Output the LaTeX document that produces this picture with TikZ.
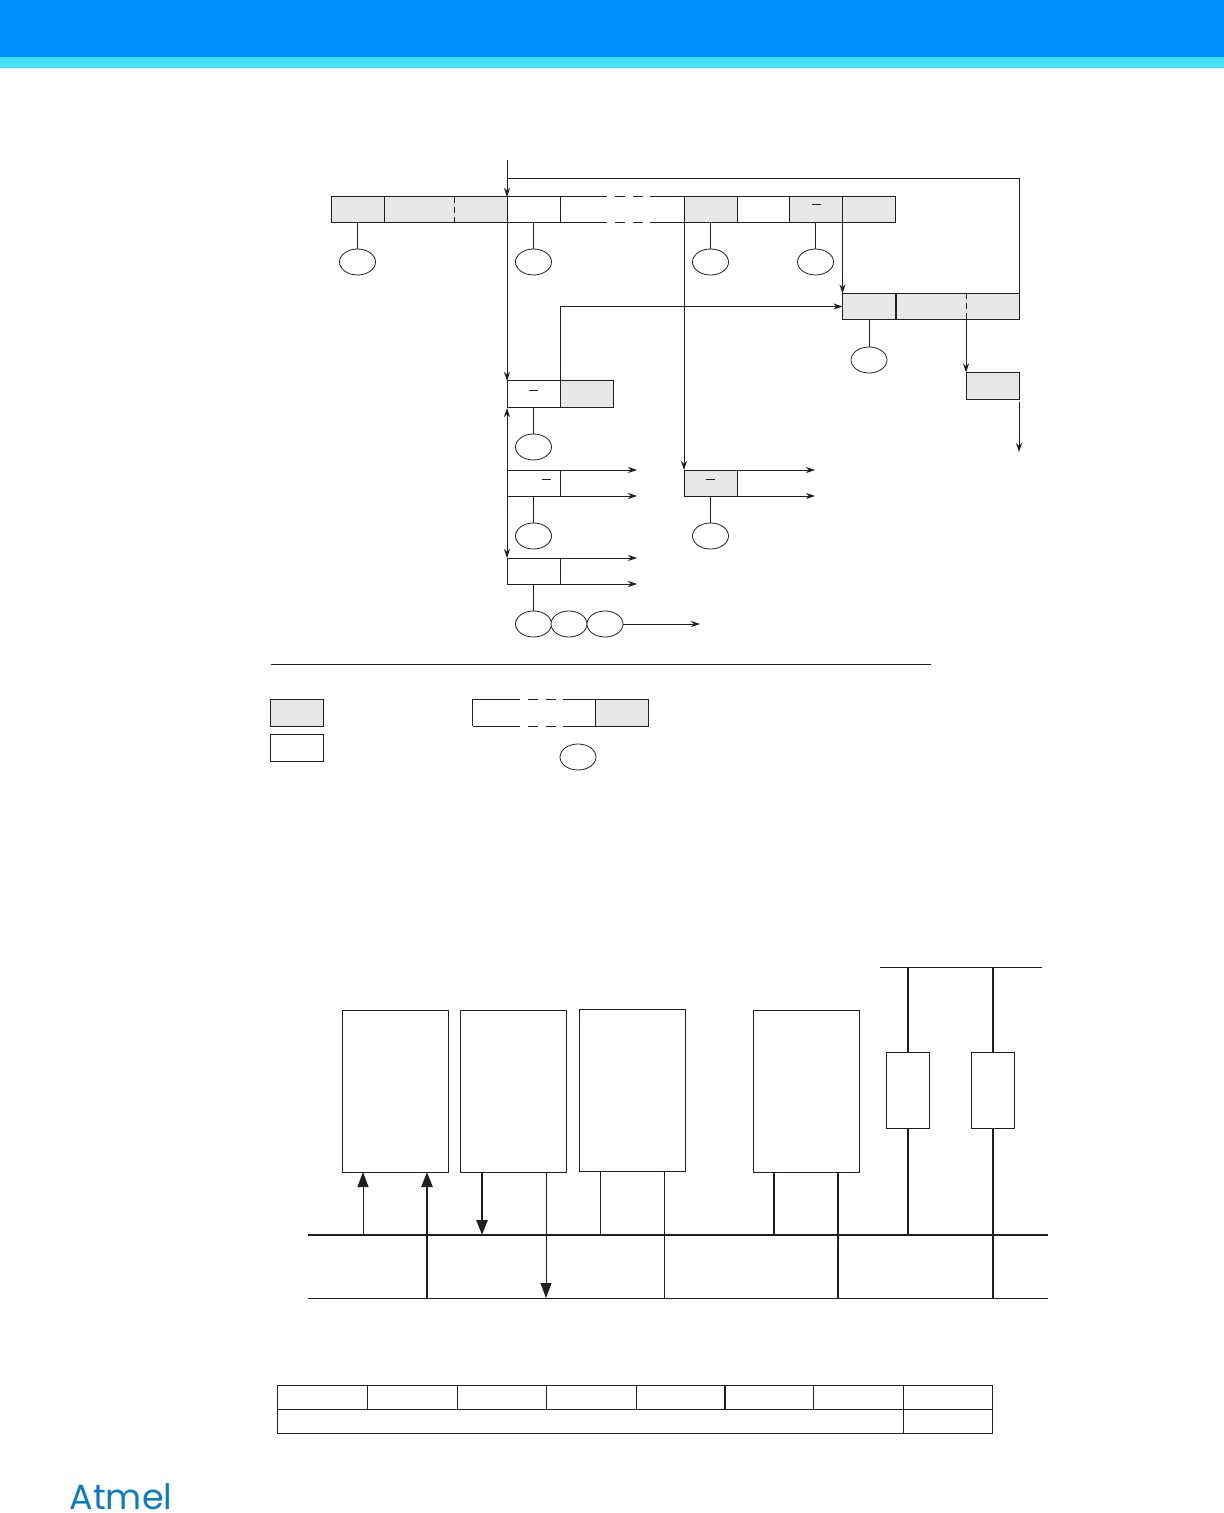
\documentclass[tikz,border=0pt]{standalone}
\usepackage{fontspec}
\usepackage{xcolor}
\usepackage{tikz}
\usetikzlibrary{arrows.meta,positioning,calc,shapes.geometric}
\newfontfamily\logofont{Poppins}
\definecolor{inkc}{HTML}{231F20}
\definecolor{cellgrey}{HTML}{E6E7E8}
\definecolor{bannerc}{HTML}{0090FF}
\definecolor{stripec}{HTML}{45E0FF}
\definecolor{logoc}{HTML}{0A7CC4}

\begin{document}
\begin{tikzpicture}[
  x=0.5pt, y=-0.5pt,
  cellw/.style={draw=inkc, line width=0.5pt, anchor=north west, inner sep=0pt, outer sep=0pt, minimum width=26.5pt, minimum height=13pt},
  cellg/.style={cellw, fill=cellgrey},
  blank/.style={anchor=north west, inner sep=0pt, outer sep=0pt, minimum height=13pt},
  bub/.style={draw=inkc, ellipse, line width=0.4pt, inner sep=0pt, outer sep=0pt, minimum width=18pt, minimum height=13pt, fill=white},
  sbox/.style={draw=inkc, line width=0.45pt, anchor=north west, inner sep=0pt, outer sep=0pt, minimum width=53.25pt, minimum height=81pt},
  cbox/.style={draw=inkc, line width=0.45pt, anchor=north west, inner sep=0pt, outer sep=0pt, minimum width=21.5pt, minimum height=38pt},
  tcell/.style={draw=inkc, line width=0.45pt, anchor=north west, inner sep=0pt, outer sep=0pt, minimum height=11.9pt},
  wire/.style={draw=inkc, line width=0.45pt},
  arr/.style={wire, -{Stealth[length=4.5pt, width=3pt]}},
  bar/.style={wire, line width=0.5pt},
  brk/.style={wire, line width=0.5pt, dash pattern=on 5pt off 4pt},
  thinw/.style={draw=inkc, line width=0.45pt},
  thickw/.style={draw=inkc, line width=1.3pt},
  thina/.style={thinw, -{Stealth[inset=0pt, length=7.5pt, width=5.5pt]}},
  thicka/.style={thickw, -{Stealth[inset=0pt, length=7.5pt, width=5.5pt]}}
]
\useasboundingbox (0,0) rectangle (1224,1513);

% Banner
\fill[bannerc] (0,0) rectangle (1224,57);
\fill[stripec] (0,57) rectangle (1224,68);

% Top row
\node[cellg] (head) at (331,197) {};
\node[cellg, minimum width=61.5pt] (addr) at (384,197) {};
\node[cellw] (ack) at (507,197) {};
\node[blank, minimum width=62pt] (data) at (560,197) {};
\node[cellg] (rs) at (684,197) {};
\node[cellw] (sl) at (737,197) {};
\node[cellg] (rw) at (789,197) {};
\node[cellg] (tail) at (842.5,197) {};
\draw[bar] (ack.north east) -- ++(37,0);
\draw[bar] (ack.south east) -- ++(37,0);
\draw[bar] (rs.north west) -- ++(-34,0);
\draw[bar] (rs.south west) -- ++(-34,0);
\draw[brk] ($(ack.north east)+(37,0)$) -- ($(rs.north west)+(-34,0)$);
\draw[brk] ($(ack.south east)+(37,0)$) -- ($(rs.south west)+(-34,0)$);
\draw[wire, densely dashed] ($(addr.north west)+(70,0)$) -- ($(addr.south west)+(70,0)$);
\draw[bar] (812,205) -- (821,205);

\node[bub] (b1) at (357.5,262) {};
\node[bub] (b2) at (533.5,262) {};
\node[bub] (b3) at (710.5,262) {};
\node[bub] (b4) at (815.5,262) {};
\draw[wire] (head) -- (b1);
\draw[wire] (ack) -- (b2);
\draw[wire] (rs) -- (b3);
\draw[wire] (rw) -- (b4);

% Right side
\node[cellg] (pec) at (842.5,293.5) {};
\node[cellg, minimum width=61.5pt] (pecr) at (896,293.5) {};
\draw[wire, densely dashed] ($(pecr.north west)+(70,0)$) -- ($(pecr.south west)+(70,0)$);
\node[bub] (b5) at (869,360) {};
\draw[wire] (pec) -- (b5);
\node[cellg, minimum height=13.5pt] (rep) at (966,372.5) {};
\coordinate (inp) at (507,160);
\coordinate (loop) at (507,178.5);
\coordinate (out) at (1019,452);
\draw[arr] (inp) -- (ack.north west);
\draw[wire] (loop) -| (pecr.north east);
\draw[arr] (tail.south west) -- (pec.north west);
\draw[arr] ($(pecr.south west)+(70,0)$) -- (rep.north west);
\draw[arr] ($(rep.south east)+(0,3)$) -- (out);

% Middle column
\node[cellw, minimum height=13.5pt] (nack) at (507,381) {};
\node[cellg, minimum height=13.5pt] (nackr) at (560,381) {};
\draw[bar] (529,391) -- (538,391);
\node[bub] (b6) at (533.5,447) {};
\draw[wire] (nack) -- (b6);
\draw[arr] (nack.north east) |- (pec.west);
\draw[arr] (ack.south west) -- (nack.north west);

\node[cellw] (wr) at (507,470) {};
\draw[bar] (542,479) -- (551,479);
\node[bub] (b7) at (533.5,536) {};
\draw[wire] (wr) -- (b7);
\node[cellw] (rd) at (507,558) {};
\node[bub] (b8) at (533.5,624) {};
\node[bub] (b9) at (569,624) {};
\node[bub] (b10) at (605,624) {};
\draw[wire] (rd) -- (b8);
\coordinate (o1) at (637,470);
\coordinate (o2) at (637,496);
\coordinate (o3) at (637,558);
\coordinate (o4) at (637,584);
\coordinate (o5) at (700,624);
\draw[arr] (wr.north east) -- (o1);
\draw[arr] (wr.south east) -- (o2);
\draw[arr] (rd.north east) -- (o3);
\draw[arr] (rd.south east) -- (o4);
\draw[arr] (b10) -- (o5);
\draw[arr] (wr.south west) -- (nack.south west);
\draw[arr] (wr.south west) -- (rd.north west);

% Repeated start column
\node[cellg] (rs2) at (684,470) {};
\draw[bar] (706,479) -- (715,479);
\node[bub] (b11) at (710.5,536) {};
\draw[wire] (rs2) -- (b11);
\coordinate (o6) at (815,470);
\coordinate (o7) at (815,496);
\draw[arr] (rs2.north east) -- (o6);
\draw[arr] (rs2.south east) -- (o7);
\draw[arr] (rs.south west) -- (rs2.north west);

% Legend
\coordinate (ruleL) at (271,664);
\coordinate (ruleR) at (931,664);
\draw[wire] (ruleL) -- (ruleR);
\node[cellg, minimum height=13.5pt] (lg1) at (270,699) {};
\node[cellw, minimum height=13.5pt] (lg2) at (270,734) {};
\node[cellg, minimum height=13.5pt] (lg4) at (595.5,699) {};
\coordinate (lgA) at (472.5,699);
\coordinate (lgB) at (472.5,726);
\draw[bar] (lgB) -- (lgA) -- ++(37,0);
\draw[bar] (lgB) -- ++(37,0);
\draw[bar] (lg4.north west) -- ++(-33,0);
\draw[bar] (lg4.south west) -- ++(-33,0);
\draw[brk] ($(lgA)+(37,0)$) -- ($(lg4.north west)+(-33,0)$);
\draw[brk] ($(lgB)+(37,0)$) -- ($(lg4.south west)+(-33,0)$);
\node[bub] (b12) at (578,757) {};

% Bus figure
\node[sbox] (dev1) at (342,1010) {};
\node[sbox] (dev2) at (460,1010) {};
\node[sbox] (dev3) at (579,1009) {};
\node[sbox] (dev4) at (753,1010) {};
\node[cbox] (rp1) at (886.5,1052) {};
\node[cbox] (rp2) at (971.5,1052) {};

\coordinate (sdaL) at (308,1235);
\coordinate (sdaR) at (1048,1235);
\coordinate (sclL) at (308,1298);
\coordinate (sclR) at (1048,1298);
\coordinate (vccL) at (880,967);
\coordinate (vccR) at (1042,967);
\draw[thickw] (sdaL) -- (sdaR);
\draw[thinw] (sclL) -- (sclR);
\draw[thinw] (vccL) -- (vccR);

\coordinate (tapa) at (363,1235);
\coordinate (tapb) at (427,1298);
\coordinate (tapc) at (482,1235);
\coordinate (tapd) at (546,1298);
\coordinate (tape) at (600,1235);
\coordinate (tapf) at (664,1298);
\coordinate (tapg) at (774,1235);
\coordinate (taph) at (838,1298);
\draw[thina] (tapa) -- (tapa |- dev1.south);
\draw[thicka] (tapb) -- (tapb |- dev1.south);
\draw[thicka] (tapc |- dev2.south) -- (tapc);
\draw[thina] (tapd |- dev2.south) -- (tapd);
\draw[thinw] (tape |- dev3.south) -- (tape);
\draw[thinw] (tapf |- dev3.south) -- (tapf);
\draw[thickw] (tapg |- dev4.south) -- (tapg);
\draw[thickw] (taph |- dev4.south) -- (taph);
\draw[thickw] (rp1.north |- vccL) -- (rp1.north);
\draw[thickw] (rp1.south) -- (rp1.south |- sdaL);
\draw[thickw] (rp2.north |- vccL) -- (rp2.north);
\draw[thickw] (rp2.south) -- (rp2.south |- sclL);

% Register table
\node[tcell, minimum width=45pt] (t1) at (277.5,1385.5) {};
\node[tcell, minimum width=45pt] (t2) at (367.5,1385.5) {};
\node[tcell, minimum width=44.5pt] (t3) at (457,1385.5) {};
\node[tcell, minimum width=45pt] (t4) at (546,1385.5) {};
\node[tcell, minimum width=44.5pt] (t5) at (636,1385.5) {};
\node[tcell, minimum width=44.5pt] (t6) at (724.5,1385.5) {};
\node[tcell, minimum width=45pt] (t7) at (813.5,1385.5) {};
\node[tcell, minimum width=44.75pt] (t8) at (903,1385.5) {};
\node[tcell, minimum width=312.75pt] (t9) at (277.5,1409.5) {};
\node[tcell, minimum width=44.75pt] (t10) at (903,1409.5) {};

% Logo
\node[font=\logofont\fontsize{17.5}{17.5}\selectfont, text=logoc, inner sep=0pt, anchor=base] (logo) at (121,1509) {Atmel};
\end{tikzpicture}
\end{document}
